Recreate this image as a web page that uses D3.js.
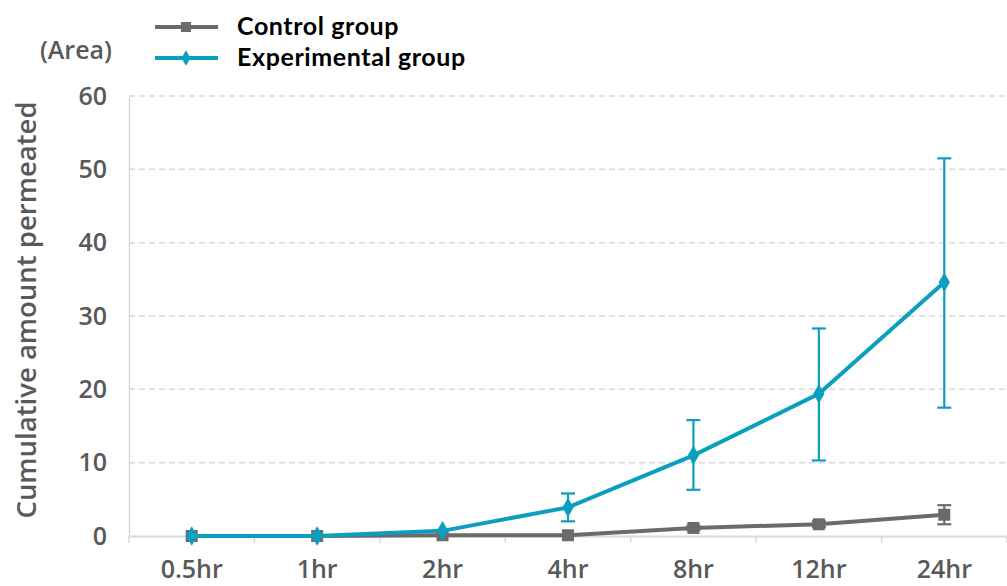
<!DOCTYPE html>
<html><head><meta charset="utf-8">
<script src="https://cdn.jsdelivr.net/npm/d3@7"></script>
<style>body{margin:0;background:#fff}svg{display:block}</style>
</head><body>
<svg id="c" width="1007" height="586"></svg>
<script>
const categories = ["0.5hr","1hr","2hr","4hr","8hr","12hr","24hr"];
const controlValues = [0, 0, 0.1, 0.1, 1.1, 1.6, 2.9];
const controlErr = [0, 0, 0, 0, 0.3, 0.4, 1.3];
const experimentalValues = [0, 0, 0.7, 3.9, 11.0, 19.4, 34.6];
const experimentalErrUp = [0, 0, 0, 1.9, 4.8, 8.9, 16.9];
const experimentalErrDown = [0, 0, 0, 1.9, 4.7, 9.1, 17.1];
const yTicks = [0,10,20,30,40,50,60];
const seriesNames = ["Control group","Experimental group"];

(function(){
const svg = d3.select("#c");
const mLeft = 129, mRight = 1007, mTop = 96, mBottom = 536;
const x = d3.scaleBand().domain(categories).range([mLeft, mRight]);
const y = d3.scaleLinear().domain([0,60]).range([mBottom, mTop]);
const cExp = "#0b9fbf", cCtl = "#6e6a6a", grid = "#d9d9d9", txt = "#595959";
const FONT = "'Open Sans', sans-serif";

svg.append("g").selectAll("line").data(yTicks.filter(d=>d>0)).join("line")
  .attr("x1", mLeft).attr("x2", mRight).attr("y1", d=>y(d)).attr("y2", d=>y(d))
  .attr("stroke", grid).attr("stroke-width", 1.5).attr("stroke-dasharray", "6,4");

const ya = svg.append("g").attr("transform", `translate(${mLeft},0)`)
  .call(d3.axisLeft(y).tickValues(yTicks).tickSize(0).tickPadding(22));
ya.select(".domain").attr("stroke", grid).attr("stroke-width", 1.5);
ya.selectAll("text").attr("fill", txt).attr("font-family", FONT).attr("font-weight","600").attr("font-size","25px");

const xa = svg.append("g").attr("transform", `translate(0,${mBottom})`)
  .call(d3.axisBottom(x).tickSize(0).tickPadding(24));
xa.select(".domain").attr("stroke", grid).attr("stroke-width", 2);
xa.selectAll("text").attr("fill", txt).attr("font-family", FONT).attr("font-weight","600").attr("font-size","25px");
const bounds = categories.map(c=>x(c)).concat([mRight]);
svg.append("g").selectAll("line").data(bounds).join("line")
  .attr("x1", d=>d).attr("x2", d=>d).attr("y1", mBottom).attr("y2", mBottom+7)
  .attr("stroke", grid).attr("stroke-width", 1.5);

const cx = c => x(c) + x.bandwidth()/2;

svg.append("text").attr("transform", `translate(36,310) rotate(-90)`)
  .attr("text-anchor","middle").attr("fill", txt)
  .attr("font-family", FONT).attr("font-weight","600").attr("font-size","27.5px")
  .text("Cumulative amount permeated");
svg.append("text").attr("x", 112).attr("y", 59).attr("text-anchor","end").attr("fill", txt)
  .attr("font-family", FONT).attr("font-weight","600").attr("font-size","25px").text("(Area)");

function drawErr(vals, up, down, color, cap) {
  const g = svg.append("g").attr("stroke", color).attr("stroke-width", 2.2);
  categories.forEach((c,i)=>{
    if (!up[i] && !down[i]) return;
    const X = cx(c), y1 = y(vals[i]+up[i]), y2 = y(vals[i]-down[i]);
    g.append("line").attr("x1",X).attr("x2",X).attr("y1",y1).attr("y2",y2);
    g.append("line").attr("x1",X-cap).attr("x2",X+cap).attr("y1",y1).attr("y2",y1);
    g.append("line").attr("x1",X-cap).attr("x2",X+cap).attr("y1",y2).attr("y2",y2);
  });
}

const line = d3.line().x((d,i)=>cx(categories[i])).y(d=>y(d));

svg.append("path").datum(controlValues).attr("d", line).attr("fill","none")
  .attr("stroke", cCtl).attr("stroke-width", 4);
drawErr(controlValues, controlErr, controlErr, cCtl, 7);
svg.append("g").selectAll("rect").data(controlValues).join("rect")
  .attr("x",(d,i)=>cx(categories[i])-6).attr("y",d=>y(d)-6).attr("width",12).attr("height",12)
  .attr("fill", cCtl);

drawErr(experimentalValues, experimentalErrUp, experimentalErrDown, cExp, 7);
svg.append("path").datum(experimentalValues).attr("d", line).attr("fill","none")
  .attr("stroke", cExp).attr("stroke-width", 4);
const diamond = d3.symbol().type(d3.symbolDiamond).size(110);
svg.append("g").selectAll("path").data(experimentalValues).join("path")
  .attr("transform",(d,i)=>`translate(${cx(categories[i])},${y(d)})`).attr("d", diamond)
  .attr("fill", cExp);

const leg = svg.append("g");
[[cCtl, 27, "rect"], [cExp, 58, "diamond"]].forEach((s,i)=>{
  leg.append("line").attr("x1",155).attr("x2",218).attr("y1",s[1]).attr("y2",s[1])
    .attr("stroke", s[0]).attr("stroke-width", 4);
  if (s[2]==="rect") leg.append("rect").attr("x",181).attr("y",s[1]-5).attr("width",10).attr("height",10).attr("fill",s[0]);
  else leg.append("path").attr("transform",`translate(186,${s[1]})`).attr("d", d3.symbol().type(d3.symbolDiamond).size(70)).attr("fill", s[0]);
  leg.append("text").attr("x",237).attr("y",s[1]+8).attr("fill","#000")
    .attr("font-family","Lato, sans-serif").attr("font-weight","700").attr("font-size","25px")
    .attr("letter-spacing","0.6px").text(seriesNames[i]);
});
})();
</script>
</body></html>
